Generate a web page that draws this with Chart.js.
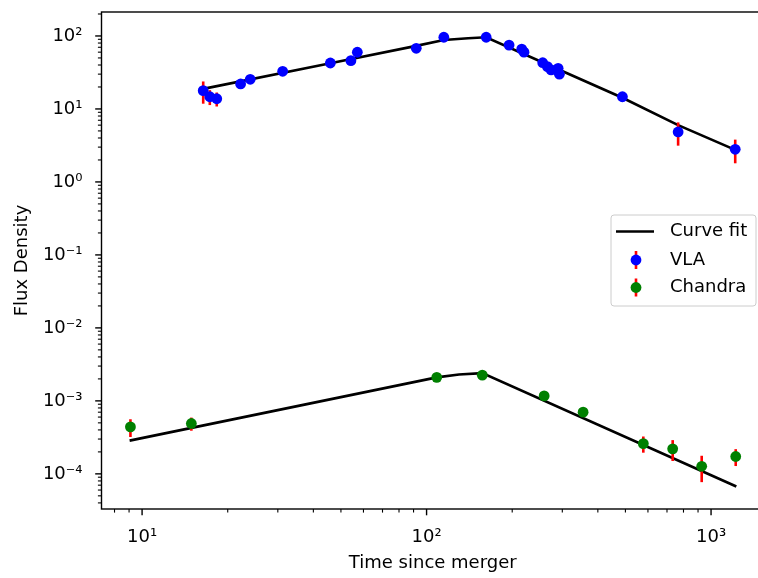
<!DOCTYPE html>
<html lang="en">
<head>
<meta charset="UTF-8">
<title>Flux density vs time since merger</title>
<style>
  html, body { margin: 0; padding: 0; background: #fff; overflow: hidden; }
  #wrap { width: 770px; height: 578px; }
</style>
</head>
<body>
<div id="wrap">
  <canvas id="myChart" width="770" height="578"></canvas>
</div>

<script src="https://cdn.jsdelivr.net/npm/chart.js"></script>
<script>
// VLA radio points (time in days, flux density, 1-sigma error)
const vlaTime = [16.4, 17.3, 18.3, 22.2, 24.0, 31.2, 45.9, 54.2, 57.1, 92, 115, 162, 195, 216, 220, 256, 266, 274, 290, 293, 488, 766, 1216];
const vlaFlux = [17.8, 14.7, 13.8, 22.0, 25.5, 32.8, 42.6, 45.9, 59.8, 67.8, 96, 96, 75, 66, 60, 43, 38, 34.2, 36, 30, 14.7, 4.84, 2.8];
const vlaErr  = [6, 3.4, 3, 2.5, 2.5, 3, 4, 4, 4, 4, 5, 5, 4, 4, 4, 3, 3, 3, 3, 3, 1.5, 1.7, 1.0];

// Chandra X-ray points
const chTime = [9.1, 14.9, 108.6, 157, 259, 355, 578, 733, 927, 1221];
const chFlux = [4.4e-4, 4.9e-4, 2.1e-3, 2.25e-3, 1.17e-3, 7.0e-4, 2.6e-4, 2.2e-4, 1.27e-4, 1.73e-4];
const chErr  = [1.2e-4, 1.0e-4, 1e-4, 1e-4, 8e-5, 6e-5, 6.5e-5, 7e-5, 5e-5, 4.5e-5];

// curve fits
const vlaFitTime = [16.4, 45.9, 92, 115, 140, 162, 290, 488, 766, 1216];
const vlaFitFlux = [18.8, 42.3, 73, 88, 93, 96, 35, 14.2, 6.0, 2.75];
const chFitTime = [9.04, 108.6, 130, 157, 1227];
const chFitFlux = [2.86e-4, 2.1e-3, 2.3e-3, 2.4e-3, 6.7e-5];

const xTicks = [10, 100, 1000];
const yTicks = [1e-4, 1e-3, 1e-2, 1e-1, 1, 10, 100];

const FONT = 'DejaVu Sans';
const SUP = {'0':'⁰','1':'¹','2':'²','3':'³','4':'⁴','5':'⁵','6':'⁶','7':'⁷','8':'⁸','9':'⁹','-':'⁻'};
const supLabel = v => '10' + String(Math.round(Math.log10(v))).split('').map(c => SUP[c]).join('');
const pts = (xs, ys) => xs.map((x, i) => ({x: x, y: ys[i]}));

// spines, tick marks, error bars, legend
const axesPlugin = {
  id: 'axesPlugin',
  beforeDatasetDraw(chart, args) {
    const ds = chart.data.datasets[args.index];
    if (!ds.err) return;
    const c = chart.ctx, xs = chart.scales.x, ys = chart.scales.y;
    c.save();
    c.strokeStyle = '#ff0000';
    c.lineWidth = 2.6;
    ds.data.forEach((p, i) => {
      const px = xs.getPixelForValue(p.x);
      const lo = Math.max(p.y - ds.err[i], 1e-12);
      c.beginPath();
      c.moveTo(px, ys.getPixelForValue(p.y + ds.err[i]));
      c.lineTo(px, ys.getPixelForValue(lo));
      c.stroke();
    });
    c.restore();
  },
  afterDraw(chart) {
    const c = chart.ctx, a = chart.chartArea;
    const xs = chart.scales.x, ys = chart.scales.y;
    c.save();
    c.strokeStyle = '#000';
    // tick marks
    const tick = (scale, v, len, w) => {
      c.lineWidth = w;
      c.beginPath();
      if (scale.axis === 'x') {
        const p = scale.getPixelForValue(v);
        if (p < a.left - 0.5 || p > a.right + 0.5) return;
        c.moveTo(p, a.bottom); c.lineTo(p, a.bottom + len);
      } else {
        const p = scale.getPixelForValue(v);
        if (p < a.top - 0.5 || p > a.bottom + 0.5) return;
        c.moveTo(a.left, p); c.lineTo(a.left - len, p);
      }
      c.stroke();
    };
    [[xs, xTicks], [ys, yTicks]].forEach(([s, major]) => {
      const decades = [major[0] / 10].concat(major);
      decades.forEach(d => {
        for (let k = 2; k <= 9; k++) tick(s, d * k, 3.6, 1.1);
      });
      major.forEach(v => tick(s, v, 6.3, 1.4));
    });
    // spines
    c.lineWidth = 1.4;
    c.strokeRect(a.left, a.top, a.right - a.left, a.bottom - a.top);

    // legend (center right)
    const w = 145, h = 91;
    const bx = a.right - 8 - w, by = (a.top + a.bottom) / 2 - h / 2;
    c.fillStyle = 'rgba(255,255,255,0.8)';
    c.strokeStyle = '#cccccc';
    c.lineWidth = 1;
    c.beginPath();
    c.roundRect(bx, by, w, h, 3);
    c.fill(); c.stroke();

    const cy = (a.top + a.bottom) / 2;
    const rows = [cy - 29, cy - 0.5, cy + 27];
    const hx = bx + 5, tx = bx + 59;
    c.strokeStyle = '#000';
    c.lineWidth = 2.7;
    c.beginPath(); c.moveTo(hx, rows[0]); c.lineTo(hx + 38, rows[0]); c.stroke();
    [['blue', rows[1]], ['green', rows[2]]].forEach(([col, y]) => {
      c.strokeStyle = '#ff0000';
      c.lineWidth = 2.6;
      c.beginPath(); c.moveTo(hx + 20, y - 9); c.lineTo(hx + 20, y + 9); c.stroke();
      c.fillStyle = col;
      c.beginPath(); c.arc(hx + 20, y, 5.4, 0, Math.PI * 2); c.fill();
    });
    c.fillStyle = '#000';
    c.font = '18px "' + FONT + '"';
    c.textBaseline = 'middle';
    c.textAlign = 'left';
    ['Curve fit', 'VLA', 'Chandra'].forEach((t, i) => c.fillText(t, tx, rows[i]));
    c.restore();
  }
};

const ctx = document.getElementById('myChart');
const chart = new Chart(ctx, {
  type: 'scatter',
  data: {
    datasets: [
      { label: 'VLA', data: pts(vlaTime, vlaFlux), err: vlaErr,
        backgroundColor: 'blue', borderColor: 'blue', pointRadius: 5.4, pointBorderWidth: 0, order: 0 },
      { label: 'Chandra', data: pts(chTime, chFlux), err: chErr,
        backgroundColor: 'green', borderColor: 'green', pointRadius: 5.4, pointBorderWidth: 0, order: 0 },
      { label: 'Curve fit', type: 'line', data: pts(vlaFitTime, vlaFitFlux),
        borderColor: 'black', borderWidth: 2.7, pointRadius: 0, fill: false, tension: 0, order: 1 },
      { label: 'Curve fit', type: 'line', data: pts(chFitTime, chFitFlux),
        borderColor: 'black', borderWidth: 2.7, pointRadius: 0, fill: false, tension: 0, order: 1 }
    ]
  },
  options: {
    responsive: false,
    animation: false,
    devicePixelRatio: 1,
    layout: { padding: { top: 12, right: 6, left: 0, bottom: 0 } },
    plugins: { legend: { display: false }, tooltip: { enabled: false } },
    scales: {
      x: {
        type: 'logarithmic', min: 7.2, max: 1535,
        grid: { display: false }, border: { display: false },
        afterBuildTicks: s => { s.ticks = xTicks.map(v => ({ value: v })); },
        afterFit: s => { s.height = 69; s.paddingLeft = 0; s.paddingRight = 0; },
        ticks: { callback: v => supLabel(v), autoSkip: false, maxRotation: 0, padding: 10,
                 color: '#000', font: { family: FONT, size: 18 } },
        title: { display: true, text: 'Time since merger', color: '#000',
                 font: { family: FONT, size: 18 }, padding: { top: 4, bottom: 4 } }
      },
      y: {
        type: 'logarithmic', min: 3.3e-5, max: 213,
        grid: { display: false }, border: { display: false },
        afterBuildTicks: s => { s.ticks = yTicks.map(v => ({ value: v })); },
        afterFit: s => { s.width = 101.5; s.paddingTop = 0; s.paddingBottom = 0; },
        ticks: { callback: v => supLabel(v), autoSkip: false, padding: 11,
                 color: '#000', font: { family: FONT, size: 18 } },
        title: { display: true, text: 'Flux Density', color: '#000',
                 font: { family: FONT, size: 18 }, padding: { top: 12, bottom: 12 } }
      }
    }
  },
  plugins: [axesPlugin]
});
</script>
</body>
</html>
